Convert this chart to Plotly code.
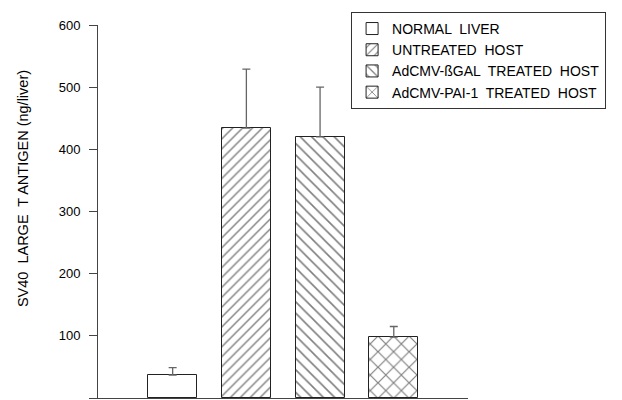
import plotly.graph_objects as go

groups = ["NORMAL  LIVER", "UNTREATED  HOST", "AdCMV-ßGAL  TREATED  HOST", "AdCMV-PAI-1  TREATED  HOST"]
means = [37, 434, 420, 98]
errors_up = [12, 95, 80, 17]
patterns = ["", "/", "\\", "x"]
pattern_sizes = [7, 7, 8, 11]
positions = [0, 1, 2, 3]
y_ticks = [0, 100, 200, 300, 400, 500, 600]
y_title = "SV40  LARGE  T ANTIGEN (ng/liver)"

fig = go.Figure()
for i in range(len(groups)):
    fig.add_trace(go.Bar(
        x=[positions[i]], y=[means[i]], name=groups[i],
        width=0.665,
        marker=dict(color="white", line=dict(color="#222", width=1),
                    pattern=dict(shape=patterns[i], fgcolor="black", bgcolor="white",
                                 size=pattern_sizes[i], solidity=0.2)),
        error_y=dict(type="data", symmetric=False, array=[errors_up[i]], arrayminus=[0],
                     color="#666", thickness=1.3, width=4),
    ))

fig.update_layout(
    width=622, height=400,
    margin=dict(l=98, r=154, t=25, b=2),
    paper_bgcolor="white", plot_bgcolor="white",
    font=dict(family="Liberation Sans, Arial, sans-serif", color="black"),
    showlegend=True,
    legend=dict(x=0.684, y=1.035, xanchor="left", yanchor="top",
                bordercolor="#333", borderwidth=1, bgcolor="white",
                font=dict(size=14), tracegroupgap=0, itemwidth=30),
    bargap=0,
    annotations=[dict(text=y_title, textangle=-90, xref="paper", yref="paper",
                      x=-0.2027, y=0.56, xanchor="center", yanchor="middle",
                      showarrow=False, font=dict(size=14.5))],
)
fig.update_xaxes(range=[-1.013, 4.007], showticklabels=False, ticks="", showgrid=False,
                 zeroline=False, showline=True, linecolor="#444", linewidth=1)
fig.update_yaxes(range=[0, 600], tickvals=y_ticks, ticks="outside", ticklen=8, tickcolor="#444",
                 showgrid=False, zeroline=False, showline=True, linecolor="#444", linewidth=1,
                 tickfont=dict(size=13), ticklabelstandoff=6)

fig.write_html("out.html", post_script="document.body.style.margin='0';",
               config={"displayModeBar": False})
